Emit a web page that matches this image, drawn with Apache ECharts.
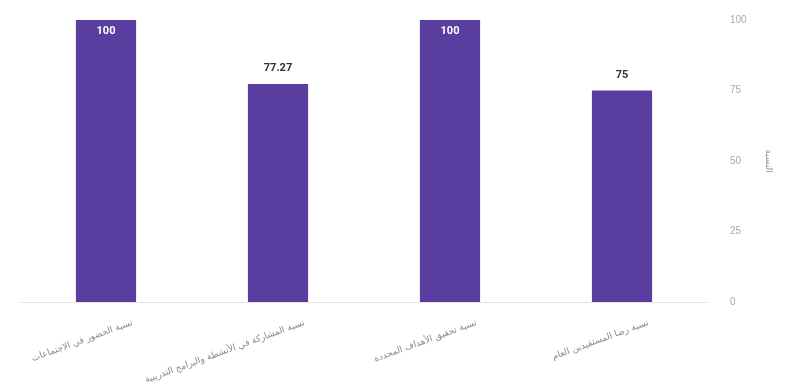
<!DOCTYPE html>
<html><head><meta charset="utf-8">
<script src="https://cdn.jsdelivr.net/npm/echarts@6/dist/echarts.min.js"></script>
<style>html,body{margin:0;padding:0;background:#fff}#c{width:786px;height:389px}</style>
</head><body><div id="c"></div>
<script>
const categories = ["نسبة الحضور في الاجتماعات", "نسبة المشاركة في الأنشطة والبرامج التدريبية", "نسبة تحقيق الأهداف المحددة", "نسبة رضا المستفيدين العام"];
const values = [100, 77.27, 100, 75];
const yTicks = [0, 25, 50, 75, 100];
const yName = "النسبة";

const chart = echarts.init(document.getElementById('c'), null, {renderer: 'canvas'});
const data = values.map(v => v >= 100 ? {
  value: v,
  label: {position: 'insideTop', color: '#ffffff', distance: 6}
} : {value: v});
chart.setOption({
  animation: false,
  grid: {left: 20, right: 78, top: 20, bottom: 87},
  xAxis: {
    type: 'category', data: categories,
    axisLine: {lineStyle: {color: '#e3e3e3'}},
    axisTick: {show: false},
    axisLabel: {rotate: 20, color: '#8a8a8a', fontSize: 9, margin: 30, fontFamily: 'DejaVu Sans', interval: 0,
      padding: [0, -28, 0, 0]}
  },
  yAxis: {
    type: 'value', position: 'right', min: yTicks[0], max: yTicks[yTicks.length - 1], interval: 25,
    splitLine: {show: false},
    axisLine: {show: false}, axisTick: {show: false},
    axisLabel: {color: '#aaa', fontSize: 10, margin: 22},
    name: yName, nameLocation: 'middle', nameGap: 56, nameRotate: -90,
    nameTextStyle: {color: '#999', fontSize: 9, fontFamily: 'DejaVu Sans'}
  },
  series: [{
    type: 'bar', data: data, barWidth: '35%',
    itemStyle: {color: '#5a3e9f'},
    label: {show: true, position: 'top', color: '#333', fontWeight: 'bold', fontSize: 11, distance: 10, fontFamily: 'Roboto'}
  }]
});
</script></body></html>
